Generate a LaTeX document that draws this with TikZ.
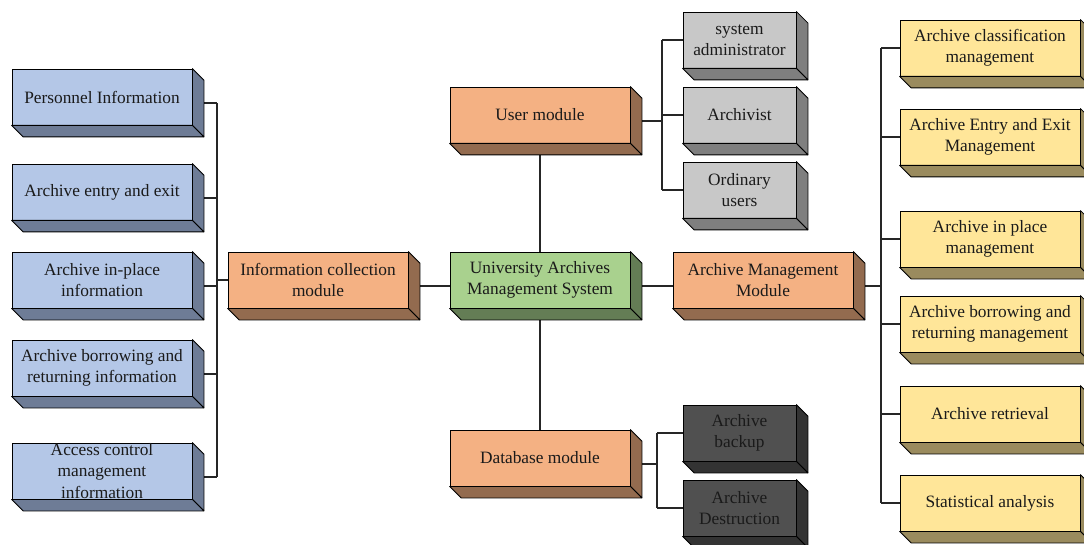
\documentclass[tikz,border=0pt]{standalone}
\usepackage{fontspec}
\setmainfont{Liberation Serif}
\usetikzlibrary{calc}

\definecolor{bluef}{HTML}{B4C7E7}
\definecolor{blues}{HTML}{6E7C96}
\definecolor{greenf}{HTML}{A9D18E}
\definecolor{greens}{HTML}{647D55}
\definecolor{orangef}{HTML}{F4B183}
\definecolor{oranges}{HTML}{936B4F}
\definecolor{grayf}{HTML}{C8C8C8}
\definecolor{grays}{HTML}{7F7F7F}
\definecolor{darkf}{HTML}{505050}
\definecolor{darks}{HTML}{333333}
\definecolor{yellowf}{HTML}{FFE699}
\definecolor{yellows}{HTML}{9A8B5E}
\definecolor{ink}{HTML}{1A1A1A}

\pgfdeclarelayer{wires}
\pgfsetlayers{wires,main}

\tikzset{
  label font/.style={font=\fontsize{13}{16}\selectfont},
  box/.style={draw=black, line width=0.6pt, minimum width=135pt, minimum height=42pt,
    inner sep=0pt, align=center, text=ink, label font},
  narrow/.style={box, minimum width=84.75pt},
  face/.style={draw=black, line width=0.6pt, line join=round},
  wire/.style={draw=black!85, line width=0.9pt},
}

% extruded right and bottom faces of a block
\newcommand\extrude[2]{%
  \filldraw[face, fill=#2] (#1.north east) -- ++(11.5,11.5)
    -- ($(#1.south east)+(11.5,11.5)$) -- (#1.south east) -- cycle;
  \filldraw[face, fill=#2] (#1.south west) -- (#1.south east)
    -- ($(#1.south east)+(11.5,11.5)$) -- ($(#1.south west)+(11.5,11.5)$) -- cycle;
}

\begin{document}
\begin{tikzpicture}[x=0.75pt,y=-0.75pt]
\clip (0,0) rectangle (1084,545);

% information items
\node[box, fill=bluef] (p1) at (102,97)  {Personnel Information};
\node[box, fill=bluef] (p2) at (102,192) {Archive entry and exit};
\node[box, fill=bluef] (p3) at (102,280) {Archive in-place\\information};
\node[box, fill=bluef] (p4) at (102,368) {Archive borrowing and\\returning information};
\node[box, fill=bluef] (p5) at (102,471) {};
\node[align=center, inner sep=0pt, text=ink, label font]
  (p5t) at (p5.center) {Access control\\management\\information};

% modules
\node[box, fill=orangef] (info) at (318,280) {Information collection\\module};
\node[box, fill=greenf]  (ctr)  at (540,280) {University Archives\\Management System};
\node[box, fill=orangef] (user) at (540,115) {User module};
\node[box, fill=orangef] (amm)  at (763,280) {Archive Management\\Module};
\node[box, fill=orangef] (db)   at (540,458) {Database module};

% user roles
\node[narrow, fill=grayf] (g1) at (739.5,40)  {system\\administrator};
\node[narrow, fill=grayf] (g2) at (739.5,115) {Archivist};
\node[narrow, fill=grayf] (g3) at (739.5,190) {Ordinary\\users};

% database functions
\node[narrow, fill=darkf] (k1) at (739.5,433) {Archive\\backup};
\node[narrow, fill=darkf] (k2) at (739.5,508) {Archive\\Destruction};

% management functions
\node[box, fill=yellowf] (y1) at (990,48)  {Archive classification\\management};
\node[box, fill=yellowf] (y2) at (990,137) {Archive Entry and Exit\\Management};
\node[box, fill=yellowf] (y3) at (990,239) {Archive in place\\management};
\node[box, fill=yellowf] (y4) at (990,324) {Archive borrowing and\\returning management};
\node[box, fill=yellowf] (y5) at (990,414) {Archive retrieval};
\node[box, fill=yellowf] (y6) at (990,503) {Statistical analysis};

% block depth
\foreach \n/\c in {p1/blues,p2/blues,p3/blues,p4/blues,p5/blues,
                   info/oranges,ctr/greens,user/oranges,amm/oranges,db/oranges,
                   g1/grays,g2/grays,g3/grays,k1/darks,k2/darks,
                   y1/yellows,y2/yellows,y3/yellows,y4/yellows,y5/yellows,y6/yellows}
  {\extrude{\n}{\c}}

% trunk positions
\coordinate (lt) at (217,0);
\coordinate (ut) at (662,0);
\coordinate (dt) at (657,0);
\coordinate (rt) at (881,0);

% side-face centres
\foreach \n in {p1,p2,p3,p4,p5,info,ctr,user,amm,db}
  {\coordinate (\n-s) at ($(\n.east)+(11.5,6)$);}

\begin{pgfonlayer}{wires}
  % information items
  \draw[wire] (p1-s -| lt) -- (p5-s -| lt);
  \foreach \n in {p1,p2,p3,p4,p5} {\draw[wire] (\n-s) -- (\n-s -| lt);}
  \draw[wire] (info.west) -- (info.west -| lt);
  % centre links
  \draw[wire] (info-s) -- (info-s -| ctr.west);
  \draw[wire] (ctr-s) -- (ctr-s -| amm.west);
  \draw[wire] (user.south) -- (ctr.north);
  \draw[wire] (ctr.south) -- (db.north);
  % user roles
  \draw[wire] (user-s) -- (user-s -| ut);
  \draw[wire] (g1.west -| ut) -- (g3.west -| ut);
  \foreach \n in {g1,g2,g3} {\draw[wire] (\n.west -| ut) -- (\n.west);}
  % database functions
  \draw[wire] (db-s) -- (db-s -| dt);
  \draw[wire] (k1.west -| dt) -- (k2.west -| dt);
  \foreach \n in {k1,k2} {\draw[wire] (\n.west -| dt) -- (\n.west);}
  % management functions
  \draw[wire] (amm-s) -- (amm-s -| rt);
  \draw[wire] (y1.west -| rt) -- (y6.west -| rt);
  \foreach \n in {y1,y2,y3,y4,y5,y6} {\draw[wire] (\n.west -| rt) -- (\n.west);}
\end{pgfonlayer}
\end{tikzpicture}
\end{document}
